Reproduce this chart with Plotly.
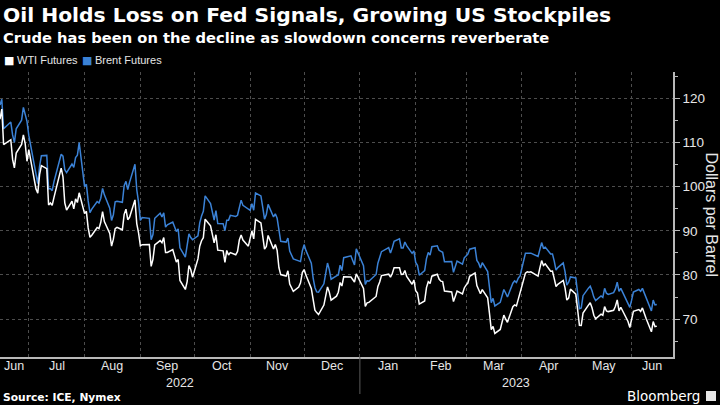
import pandas as pd
import plotly.graph_objects as go

# ---------------- data ----------------
trade_days = [
    ("2022-06", [15, 16, 17, 21, 22, 23, 24, 27, 28, 29, 30]),
    ("2022-07", [1, 5, 6, 7, 8, 11, 12, 13, 14, 15, 18, 19, 20, 21, 22, 25, 26, 27, 28, 29]),
    ("2022-08", [1, 2, 3, 4, 5, 8, 9, 10, 11, 12, 15, 16, 17, 18, 19, 22, 23, 24, 25, 26, 29, 30, 31]),
    ("2022-09", [1, 2, 6, 7, 8, 9, 12, 13, 14, 15, 16, 19, 20, 21, 22, 23, 26, 27, 28, 29, 30]),
    ("2022-10", [3, 4, 5, 6, 7, 10, 11, 12, 13, 14, 17, 18, 19, 20, 21, 24, 25, 26, 27, 28, 31]),
    ("2022-11", [1, 2, 3, 4, 7, 8, 9, 10, 11, 14, 15, 16, 17, 18, 21, 22, 23, 25, 28, 29, 30]),
    ("2022-12", [1, 2, 5, 6, 7, 8, 9, 12, 13, 14, 15, 16, 19, 20, 21, 22, 23, 27, 28, 29, 30]),
    ("2023-01", [3, 4, 5, 6, 9, 10, 11, 12, 13, 17, 18, 19, 20, 23, 24, 25, 26, 27, 30, 31]),
    ("2023-02", [1, 2, 3, 6, 7, 8, 9, 10, 13, 14, 15, 16, 17, 21, 22, 23, 24, 27, 28]),
    ("2023-03", [1, 2, 3, 6, 7, 8, 9, 10, 13, 14, 15, 16, 17, 20, 21, 22, 23, 24, 27, 28, 29, 30, 31]),
    ("2023-04", [3, 4, 5, 6, 10, 11, 12, 13, 14, 17, 18, 19, 20, 21, 24, 25, 26, 27, 28]),
    ("2023-05", [1, 2, 3, 4, 5, 8, 9, 10, 11, 12, 15, 16, 17, 18, 19, 22, 23, 24, 25, 26, 30, 31]),
    ("2023-06", [1, 2, 5, 6, 7, 8, 9, 12, 13, 14, 15]),
]
dates = [f"{m}-{d:02d}" for m, ds in trade_days for d in ds]

wti = [
    115.31, 117.59, 109.56, 110.65, 106.19, 104.27, 107.62, 109.57, 111.76, 109.78, 105.76,
    108.43, 99.50, 98.53, 102.73, 104.79, 104.09, 95.84, 96.30, 95.78, 97.59, 102.60, 104.22, 102.26, 96.35, 94.70, 96.70, 94.98, 97.26, 96.42, 98.62,
    93.89, 94.42, 90.66, 88.54, 89.01, 90.76, 90.50, 91.93, 94.34, 92.09, 89.41, 86.53, 88.11, 90.50, 90.77, 90.23, 93.74, 94.89, 92.52, 93.06, 97.01, 91.64, 89.55,
    86.61, 86.87, 86.88, 81.94, 83.54, 86.79, 87.78, 87.31, 88.48, 85.10, 85.11, 85.73, 84.45, 82.94, 83.49, 78.74, 76.71, 78.50, 82.15, 81.23, 79.49,
    83.63, 86.52, 87.76, 88.45, 92.64, 91.13, 89.35, 87.27, 89.11, 85.61, 85.46, 82.82, 85.55, 84.51, 85.05, 84.58, 85.32, 87.91, 89.08, 87.90, 86.53,
    88.37, 90.00, 88.17, 92.61, 91.79, 88.91, 85.83, 86.47, 88.96, 85.87, 86.92, 85.59, 81.64, 80.08, 79.73, 80.95, 77.94, 76.28, 77.24, 78.20, 80.55,
    81.22, 79.98, 76.93, 74.25, 72.01, 71.46, 71.02, 73.17, 75.39, 77.28, 76.11, 74.29, 75.19, 76.09, 78.29, 77.49, 79.56, 79.53, 78.96, 78.40, 80.26,
    76.93, 72.84, 73.67, 73.77, 74.63, 75.12, 77.41, 78.39, 79.86, 80.18, 79.48, 80.33, 81.64, 81.62, 80.13, 80.15, 81.01, 79.68, 77.90, 78.87,
    76.41, 75.88, 73.39, 74.11, 77.14, 78.47, 78.06, 79.72, 80.14, 79.06, 78.59, 78.49, 76.34, 76.16, 73.95, 75.39, 76.32, 75.68, 77.05,
    77.69, 78.16, 79.68, 80.46, 77.58, 76.66, 75.72, 76.68, 74.80, 71.33, 67.61, 68.35, 66.74, 67.64, 69.33, 70.90, 69.96, 69.26, 72.81, 73.20, 72.97, 74.37, 75.67,
    80.42, 80.71, 80.61, 80.70, 79.74, 81.53, 83.26, 82.16, 82.52, 80.83, 80.86, 79.16, 77.37, 77.87, 78.76, 77.07, 74.30, 74.76, 76.78,
    75.66, 71.66, 68.60, 68.56, 71.34, 73.16, 73.71, 72.56, 70.87, 70.04, 71.11, 70.86, 72.83, 71.86, 71.69, 71.99, 72.91, 74.34, 71.83, 72.67, 69.46, 68.09,
    70.10, 71.74, 72.15, 71.74, 72.53, 71.29, 70.17, 67.12, 69.42, 68.27, 68.40,
]

brent = [
    118.51, 119.81, 113.12, 114.65, 111.74, 110.05, 113.12, 115.09, 117.98, 116.26, 114.81,
    111.63, 102.77, 100.69, 104.65, 107.02, 107.10, 99.49, 99.57, 99.10, 101.16, 106.27, 107.35, 106.92, 103.86, 103.20, 105.15, 104.40, 106.62, 107.14, 110.01,
    100.03, 100.54, 96.78, 94.12, 94.92, 96.65, 96.31, 97.40, 99.60, 98.15, 95.10, 92.34, 93.65, 96.59, 96.72, 96.48, 100.22, 101.22, 99.34, 100.99, 105.09, 99.31, 96.49,
    92.36, 93.02, 92.83, 88.00, 89.15, 92.84, 94.00, 93.17, 94.10, 90.84, 91.35, 92.00, 90.62, 89.83, 90.46, 86.15, 84.06, 86.27, 89.32, 88.49, 87.96,
    88.86, 91.80, 93.37, 94.42, 97.92, 96.19, 94.29, 92.45, 94.57, 91.63, 91.62, 90.03, 92.41, 92.38, 93.50, 93.26, 93.52, 95.69, 96.96, 95.77, 94.83,
    94.65, 96.16, 94.67, 98.57, 97.92, 95.36, 92.65, 93.67, 95.99, 93.14, 93.86, 92.86, 89.78, 87.62, 87.45, 88.36, 85.41, 83.63, 83.19, 83.03, 85.43,
    86.88, 85.57, 82.68, 79.35, 77.17, 76.15, 76.10, 77.99, 80.68, 82.70, 81.21, 79.04, 79.80, 79.99, 82.20, 80.98, 83.92, 84.33, 83.26, 82.26, 85.91,
    82.10, 77.84, 78.69, 78.57, 79.65, 80.10, 82.67, 83.91, 85.28, 86.18, 84.98, 86.16, 87.63, 88.19, 86.13, 86.12, 87.47, 86.66, 84.90, 85.46,
    82.84, 82.17, 79.94, 80.99, 83.69, 85.09, 84.50, 86.39, 86.61, 85.58, 85.38, 85.14, 83.00, 83.05, 80.60, 82.21, 83.16, 82.45, 83.89,
    84.31, 84.75, 85.83, 86.18, 83.29, 82.66, 81.59, 82.78, 80.77, 77.45, 73.69, 74.70, 72.97, 73.79, 75.32, 76.69, 75.91, 74.99, 78.12, 78.65, 78.28, 79.27, 79.77,
    84.93, 84.94, 84.99, 84.94, 84.18, 85.61, 87.33, 86.09, 86.31, 84.76, 84.77, 83.12, 81.10, 81.66, 82.73, 80.77, 77.69, 78.37, 79.54,
    79.31, 75.32, 72.33, 72.50, 75.30, 77.01, 77.44, 76.41, 74.98, 74.17, 75.23, 74.91, 76.96, 75.86, 75.58, 75.99, 76.84, 78.36, 76.26, 76.95, 73.54, 72.66,
    74.28, 76.13, 76.71, 76.29, 76.95, 75.96, 74.79, 71.84, 74.29, 73.20, 73.30,
]

series_names = ["WTI Futures", "Brent Futures"]
y_ticks = [70, 80, 90, 100, 110, 120]
year_labels = ["2022", "2023"]

assert len(dates) == len(wti) == len(brent)

# ---------------- styling ----------------
BG = "#000000"
WHITE = "#ffffff"
BLUE = "#3b82d6"
GRID = "#4d4d4d"
AXIS = "#b8b8b8"
LABEL = "#e6e6e6"
SANS = "Liberation Sans, Arial, sans-serif"
BOLD = "DejaVu Sans, Verdana, sans-serif"

W, H = 720, 405
PLOT_TOP, PLOT_BOTTOM, PLOT_RIGHT = 72, 357, 673
X_RANGE = ["2022-06-15", "2023-06-24"]
Y_RANGE = [61.4, 126]


def py(Y):
    """pixel row -> paper y"""
    return (PLOT_BOTTOM - Y) / (PLOT_BOTTOM - PLOT_TOP)


fig = go.Figure()
fig.add_trace(go.Scatter(x=dates, y=brent, mode="lines", name=series_names[1],
                         line=dict(color=BLUE, width=1.5)))
fig.add_trace(go.Scatter(x=dates, y=wti, mode="lines", name=series_names[0],
                         line=dict(color=WHITE, width=1.5)))

r0, r1 = pd.Timestamp(X_RANGE[0]), pd.Timestamp(X_RANGE[1])
month_starts = pd.date_range("2022-06-01", "2023-07-01", freq="MS")
grid_months = [m for m in month_starts if r0 < m < r1]

annotations = []
# month labels centred in visible part of each month
for i in range(len(month_starts) - 1):
    a = max(month_starts[i], r0)
    b = min(month_starts[i + 1], r1)
    if b <= a:
        continue
    mid = a + (b - a) / 2
    annotations.append(dict(x=mid, y=py(366), xref="x", yref="paper", text=month_starts[i].strftime("%b"),
                            showarrow=False, xanchor="center", yanchor="middle",
                            font=dict(family=SANS, size=12.5, color=LABEL)))
# year labels
year_bounds = [(r0, pd.Timestamp("2023-01-01")), (pd.Timestamp("2023-01-01"), r1)]
for lab, (a, b) in zip(year_labels, year_bounds):
    annotations.append(dict(x=a + (b - a) / 2, y=py(383), xref="x", yref="paper", text=lab,
                            showarrow=False, xanchor="center", yanchor="middle",
                            font=dict(family=SANS, size=12.5, color=LABEL)))

# title, subtitle
annotations.append(dict(x=0, y=py(15), xref="paper", yref="paper", xshift=1,
                        text="<b>Oil Holds Loss on Fed Signals, Growing US Stockpiles</b>",
                        showarrow=False, xanchor="left", yanchor="middle",
                        font=dict(family=BOLD, size=20.3, color=WHITE)))
annotations.append(dict(x=0, y=py(37), xref="paper", yref="paper", xshift=1,
                        text="<b>Crude has been on the decline as slowdown concerns reverberate</b>",
                        showarrow=False, xanchor="left", yanchor="middle",
                        font=dict(family=BOLD, size=14.7, color=WHITE)))
# legend (square + label)
legend_items = [(series_names[0], WHITE, 2), (series_names[1], BLUE, 80)]
for name, col, xs in legend_items:
    annotations.append(dict(x=0, y=py(60), xref="paper", yref="paper", xshift=xs,
                            text="■",
                            showarrow=False, xanchor="left", yanchor="middle",
                            font=dict(family="DejaVu Sans", size=11, color=col)))
    annotations.append(dict(x=0, y=py(60), xref="paper", yref="paper", xshift=xs + 13,
                            text=name,
                            showarrow=False, xanchor="left", yanchor="middle",
                            font=dict(family=SANS, size=11, color=LABEL)))
# y axis title
annotations.append(dict(x=1, y=0.5, xref="paper", yref="paper", xshift=38,
                        text="Dollars per Barrel", textangle=90,
                        showarrow=False, xanchor="center", yanchor="middle",
                        font=dict(family=SANS, size=16, color=LABEL)))
# source & brand
annotations.append(dict(x=0, y=py(397), xref="paper", yref="paper", xshift=1,
                        text="<b>Source: ICE, Nymex</b>",
                        showarrow=False, xanchor="left", yanchor="middle",
                        font=dict(family=BOLD, size=10.7, color=WHITE)))
annotations.append(dict(x=1, y=py(396), xref="paper", yref="paper", xshift=29,
                        text="Bloomberg",
                        showarrow=False, xanchor="right", yanchor="middle",
                        font=dict(family=BOLD, size=13.5, color=WHITE)))

shapes = [
    # year separator
    dict(type="line", xref="x", yref="paper", x0="2023-01-01", x1="2023-01-01",
         y0=0, y1=py(394), line=dict(color="#5a5a5a", width=1)),
    # brand icon
    dict(type="rect", xref="paper", yref="paper", x0=706 / PLOT_RIGHT, x1=716 / PLOT_RIGHT,
         y0=py(401), y1=py(391), fillcolor="#e6e6e6", line=dict(width=0)),
]

fig.update_layout(
    width=W, height=H,
    paper_bgcolor=BG, plot_bgcolor=BG,
    margin=dict(l=0, r=W - PLOT_RIGHT, t=PLOT_TOP, b=H - PLOT_BOTTOM),
    showlegend=False,
    annotations=annotations,
    shapes=shapes,
    xaxis=dict(
        type="date", range=X_RANGE,
        tickvals=grid_months, showticklabels=False, ticks="",
        showgrid=True, gridcolor=GRID, griddash="dot", gridwidth=1,
        showline=True, linecolor=AXIS, linewidth=1.5, zeroline=False,
    ),
    yaxis=dict(
        side="right", range=Y_RANGE, tickvals=y_ticks,
        ticks="outside", ticklen=5, tickcolor=AXIS, tickwidth=1,
        minor=dict(dtick=5, tick0=0, ticks="outside", ticklen=3, tickcolor=AXIS, showgrid=False),
        showgrid=True, gridcolor=GRID, griddash="dot", gridwidth=1,
        showline=True, linecolor=AXIS, linewidth=1.5, zeroline=False,
        tickfont=dict(family=SANS, size=13.5, color=LABEL),
    ),
)

fig.write_html(
    "out.html",
    config={"displayModeBar": False},
    post_script="document.body.style.margin='0';document.body.style.overflow='hidden';document.body.style.background='#000';",
)
